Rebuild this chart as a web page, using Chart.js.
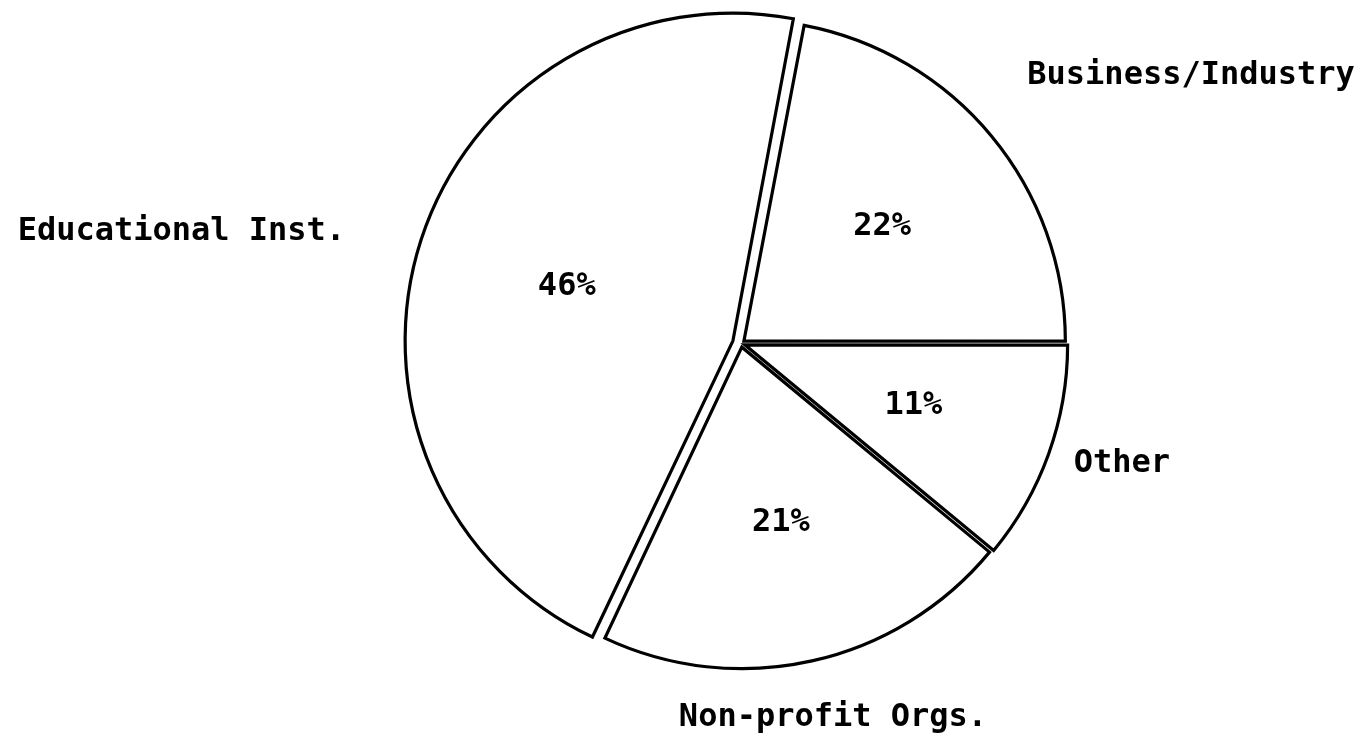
<!DOCTYPE html>
<html>
<head>
<meta charset="utf-8">
<script src="https://cdn.jsdelivr.net/npm/chart.js@4"></script>
<style>
  html, body { margin: 0; padding: 0; background: #fff; }
  #wrap { width: 1369px; height: 751px; }
</style>
</head>
<body>
<div id="wrap"><canvas id="pieChart" width="1369" height="751"></canvas></div>
<script>
// data, clockwise from 3 o'clock
const labels = ["Other", "Non-profit Orgs.", "Educational Inst.", "Business/Industry"];
const shares = [11, 21, 46, 22];
const pctLabels = ["11%", "21%", "46%", "22%"];

const FONT = 'bold 32px "DejaVu Sans Mono", "Liberation Mono", monospace';

// draws the % inside and the names outside
const pieText = {
  id: 'pieText',
  afterDatasetsDraw(chart, args, opts) {
    const ctx = chart.ctx;
    const arcs = chart.getDatasetMeta(0).data;
    ctx.save();
    ctx.fillStyle = '#000';
    ctx.font = FONT;
    ctx.textBaseline = 'middle';
    arcs.forEach((arc, i) => {
      const p = arc.getProps(['x', 'y', 'startAngle', 'endAngle', 'outerRadius'], true);
      const mid = (p.startAngle + p.endAngle) / 2;
      // percent
      const rIn = p.outerRadius * 0.57;
      ctx.textAlign = 'center';
      ctx.fillText(pctLabels[i], p.x + Math.cos(mid) * rIn, p.y + Math.sin(mid) * rIn);
      // name, pushed out along the slice's middle
      const nudge = opts.nudge[i];
      const a = mid + nudge.da * Math.PI / 180;
      const c = Math.cos(a), s = Math.sin(a);
      const rOut = p.outerRadius * nudge.r;
      if (Math.abs(c) < 0.4) ctx.textAlign = 'center';
      else ctx.textAlign = c > 0 ? 'left' : 'right';
      ctx.fillText(labels[i], p.x + c * rOut, p.y + s * rOut);
    });
    ctx.restore();
  }
};

const ctx = document.getElementById('pieChart').getContext('2d');
const pieChart = new Chart(ctx, {
  type: 'pie',
  data: {
    labels: labels,
    datasets: [{
      data: shares,
      backgroundColor: '#fff',
      borderColor: '#000',
      borderWidth: 3.2,
      borderJoinStyle: 'miter',
      offset: [16, 15, 34, 15]
    }]
  },
  options: {
    responsive: false,
    animation: false,
    rotation: 90,
    layout: { padding: { left: 401, right: 288, top: 3, bottom: 67 } },
    plugins: {
      legend: { display: false },
      tooltip: { enabled: false },
      pieText: {
        nudge: [{ r: 1.1, da: 0 }, { r: 1.2, da: -1.2 }, { r: 1.28, da: -2.2 }, { r: 1.22, da: -3.5 }]
      }
    }
  },
  plugins: [pieText]
});
</script>
</body>
</html>
